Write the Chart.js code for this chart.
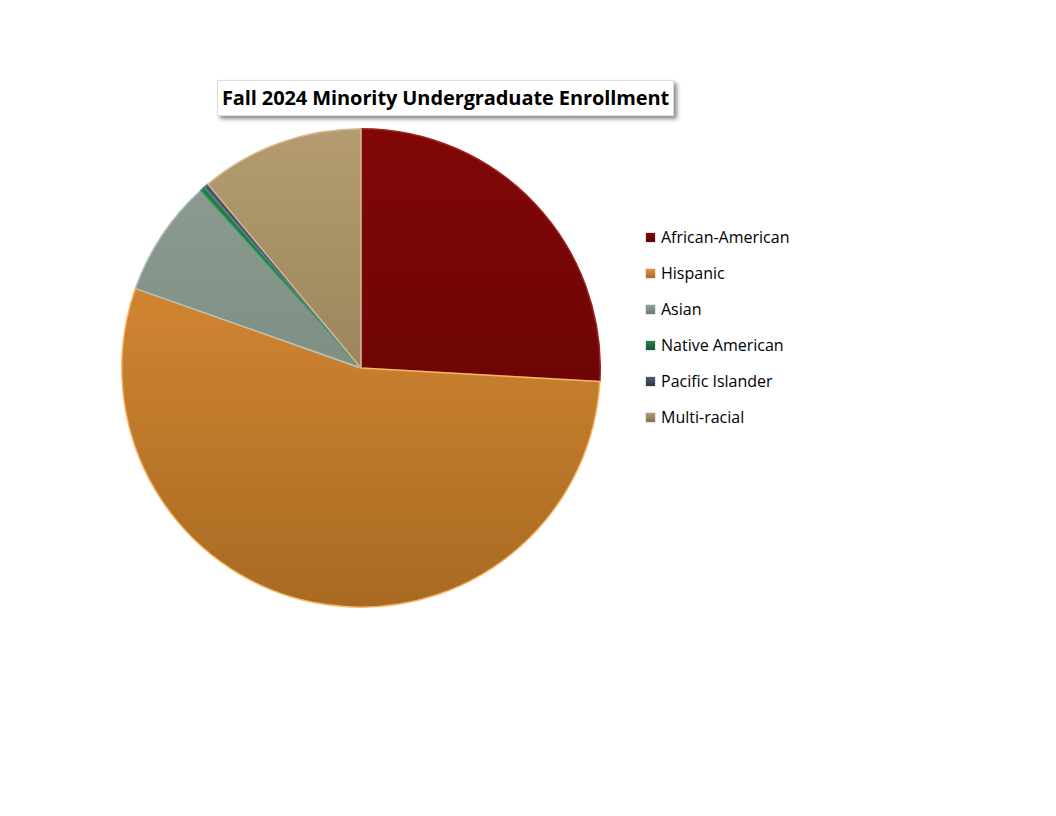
<!DOCTYPE html>
<html>
<head>
<meta charset="utf-8">
<script src="https://cdn.jsdelivr.net/npm/chart.js@4.4.1/dist/chart.umd.min.js"></script>
<style>
  body { margin: 0; background: #fff; width: 1056px; height: 816px; position: relative; overflow: hidden; font-family: "Open Sans", "DejaVu Sans", sans-serif; }
  #title { position: absolute; left: 217px; top: 80px; width: 457px; height: 36px; background: #fff;
    box-shadow: 3px 3px 4px rgba(0,0,0,0.45); border: 1px solid #ddd; box-sizing: border-box;
    font-weight: bold; font-size: 20px; line-height: 34px; text-align: center; color: #000; letter-spacing: -0.1px; }
  #wrap { position: absolute; left: 121px; top: 128px; width: 480px; height: 480px; }
  #legend { position: absolute; left: 646px; top: 219px; }
  .item { height: 36px; display: flex; align-items: center; font-size: 16px; color: #000; }
  .box { width: 9px; height: 9px; margin-right: 6px; box-shadow: 0 0 0 0.5px rgba(0,0,0,0.2); }
</style>
</head>
<body>
<div id="title">Fall 2024 Minority Undergraduate Enrollment</div>
<div id="wrap"><canvas id="pieChart"></canvas></div>
<div id="legend"></div>
<script>
// data diambil dari gambar (persen perkiraan)
const categories = ['African-American', 'Hispanic', 'Asian', 'Native American', 'Pacific Islander', 'Multi-racial'];
const shares = [25.9, 54.5, 7.9, 0.35, 0.3, 11.05];

// warna atas/bawah untuk gradasi tiap slice
const topColors = ['#820707', '#e5923a', '#909f95', '#25834a', '#4a5a6e', '#b49c70'];
const bottomColors = ['#5c0404', '#a86a22', '#6c7e72', '#125a2e', '#2c3846', '#85704a'];
const edgeColors = ['#a02424', '#f7b765', '#b4c2b8', '#3aa060', '#6a7a8e', '#d0bb90'];

function sliceGradient(ctx) {
    const chart = ctx.chart;
    const area = chart.chartArea;
    if (!area) return topColors[ctx.dataIndex];
    const g = chart.ctx.createLinearGradient(0, area.top, 0, area.bottom);
    g.addColorStop(0, topColors[ctx.dataIndex]);
    g.addColorStop(1, bottomColors[ctx.dataIndex]);
    return g;
}

new Chart(document.getElementById('pieChart').getContext('2d'), {
    type: 'pie',
    data: {
        labels: categories,
        datasets: [{
            data: shares,
            backgroundColor: sliceGradient,
            borderColor: edgeColors,
            borderWidth: 1.5
        }]
    },
    options: {
        responsive: true,
        maintainAspectRatio: false,
        animation: false,
        plugins: {
            legend: { display: false },
            tooltip: { enabled: false }
        }
    }
});

// legend manual
const legendEl = document.getElementById('legend');
categories.forEach((name, i) => {
    const row = document.createElement('div');
    row.className = 'item';
    const box = document.createElement('span');
    box.className = 'box';
    box.style.background = `linear-gradient(${topColors[i]}, ${bottomColors[i]})`;
    row.appendChild(box);
    row.appendChild(document.createTextNode(name));
    legendEl.appendChild(row);
});
</script>
</body>
</html>
